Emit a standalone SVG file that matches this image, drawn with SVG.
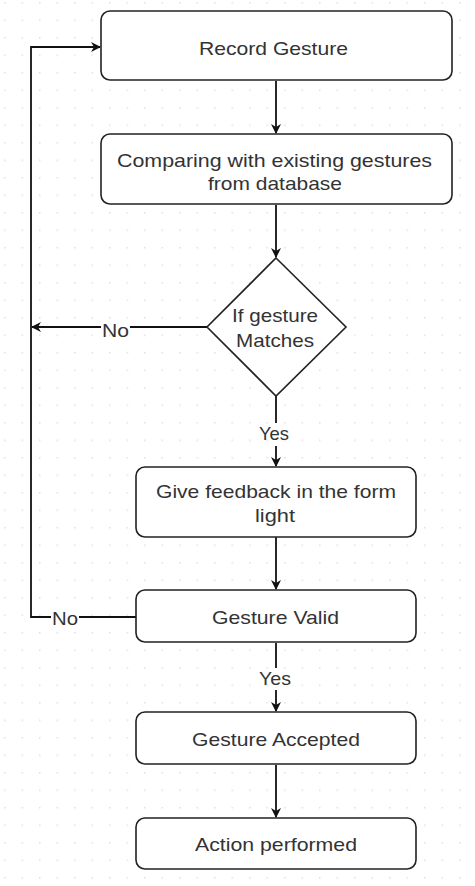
<svg xmlns="http://www.w3.org/2000/svg" width="475" height="886" viewBox="0 0 475 886">
<style>
.n{fill:#fff;stroke:#222;stroke-width:1.6}
.t{font-family:"Liberation Sans",Arial,sans-serif;font-size:19px;fill:#333;text-anchor:middle}
.c{fill:none;stroke:#111;stroke-width:1.8}
</style>
<defs>
<pattern id="dots" width="17.5" height="17.5" patternUnits="userSpaceOnUse" x="4" y="2">
<rect x="0" y="0" width="1.5" height="1.5" fill="#e0e0e0"/>
</pattern>
<marker id="ah" markerWidth="10" markerHeight="10" refX="9" refY="5" orient="auto" markerUnits="userSpaceOnUse">
<path d="M0,0 L10,5 L0,10 L3,5 Z" fill="#111"/>
</marker>
</defs>
<rect width="475" height="886" fill="#fff"/>
<rect width="475" height="886" fill="url(#dots)"/>
<g id="connectors">
<path class="c" d="M276,81 V133" marker-end="url(#ah)"/>
<path class="c" d="M276,205 V257" marker-end="url(#ah)"/>
<path class="c" d="M207,327 H130 M101,327 H32" marker-end="url(#ah)"/>
<path class="c" d="M276,396 V423 M276,446 V466" marker-end="url(#ah)"/>
<path class="c" d="M276,537 V589" marker-end="url(#ah)"/>
<path class="c" d="M136,617 H79 M51,617 H31 V47 H100" marker-end="url(#ah)"/>
<path class="c" d="M276,643 V668 M276,690 V711" marker-end="url(#ah)"/>
<path class="c" d="M276,765 V817" marker-end="url(#ah)"/>
<text class="t" x="115.5" y="337" textLength="27" lengthAdjust="spacingAndGlyphs">No</text>
<text class="t" x="274" y="440" textLength="30" lengthAdjust="spacingAndGlyphs">Yes</text>
<text class="t" x="65" y="625" textLength="26" lengthAdjust="spacingAndGlyphs">No</text>
<text class="t" x="275" y="685" textLength="32" lengthAdjust="spacingAndGlyphs">Yes</text>
</g>
<g id="record">
<rect class="n" x="101" y="11" width="351" height="69" rx="9"/>
<text class="t" x="273.5" y="55" textLength="149" lengthAdjust="spacingAndGlyphs">Record Gesture</text>
</g>
<g id="compare">
<rect class="n" x="101" y="134" width="351" height="70" rx="9"/>
<text class="t" x="274.5" y="166.5" textLength="315" lengthAdjust="spacingAndGlyphs">Comparing with existing gestures</text>
<text class="t" x="275" y="190" textLength="134" lengthAdjust="spacingAndGlyphs">from database</text>
</g>
<g id="decision">
<polygon class="n" points="276,258 346,327 276,396 207,327"/>
<text class="t" x="275" y="321.5" textLength="86" lengthAdjust="spacingAndGlyphs">If gesture</text>
<text class="t" x="275" y="346.5" textLength="78" lengthAdjust="spacingAndGlyphs">Matches</text>
</g>
<g id="feedback">
<rect class="n" x="136" y="467" width="280" height="70" rx="9"/>
<text class="t" x="276" y="497.5" textLength="240" lengthAdjust="spacingAndGlyphs">Give feedback in the form</text>
<text class="t" x="275" y="521.5" textLength="40" lengthAdjust="spacingAndGlyphs">light</text>
</g>
<g id="valid">
<rect class="n" x="136" y="590" width="280" height="52" rx="9"/>
<text class="t" x="275.5" y="623.5" textLength="127" lengthAdjust="spacingAndGlyphs">Gesture Valid</text>
</g>
<g id="accepted">
<rect class="n" x="136" y="712" width="280" height="52" rx="9"/>
<text class="t" x="276" y="746" textLength="168" lengthAdjust="spacingAndGlyphs">Gesture Accepted</text>
</g>
<g id="action">
<rect class="n" x="136" y="818" width="280" height="51" rx="9"/>
<text class="t" x="276" y="851" textLength="162" lengthAdjust="spacingAndGlyphs">Action performed</text>
</g>
</svg>
